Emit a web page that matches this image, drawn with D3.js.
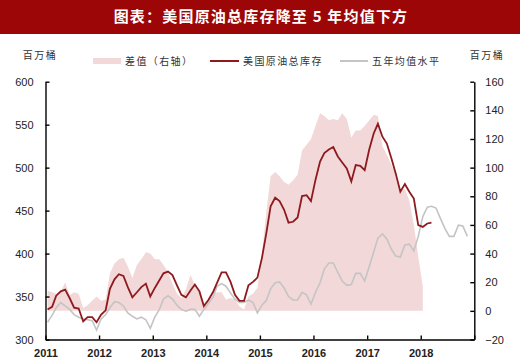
<!DOCTYPE html>
<html>
<head>
<meta charset="utf-8">
<script src="https://cdn.jsdelivr.net/npm/d3@7"></script>
<style>
  body { margin: 0; background: #fff; }
  text { font-family: "Liberation Sans", "Noto Sans", sans-serif; }
  .cjk { font-family: "Noto Sans CJK SC", sans-serif; }
</style>
</head>
<body>
<script>
const params = {
  width: 520,
  height: 363,
  left: 45.5,
  right: 474.3,
  top: 81.7,
  bottom: 339.5
}

// monthly values, first point = Jan 2011
const start = new Date(2011, 0, 1)
const stock = [
  335, 338, 351, 356, 358, 348, 337, 336, 321, 326, 326, 320,
  329, 334, 359, 370, 376, 374, 361, 349, 355, 361, 365, 350,
  360, 369, 377, 379, 375, 363, 352, 349, 357, 364, 356, 339,
  346, 355, 366, 378, 378, 367, 352, 345, 345, 363, 367, 372,
  395, 425, 455, 465, 461, 451, 436, 437, 442, 467, 468, 461,
  486, 507, 517, 521, 524, 513, 506, 499, 484, 503, 502, 497,
  521, 540, 551, 536, 528, 511, 493, 472, 481, 472, 464, 433,
  431, 435, 436
]
const avg5 = [
  320, 328, 337, 343, 339, 335, 329, 326, 324, 323, 322, 311,
  324, 329, 337, 344, 343, 339, 331, 327, 324, 326, 323, 313,
  326, 335, 347, 351, 347, 340, 335, 333, 335, 335, 327, 335,
  342, 349, 362, 365, 362, 354, 347, 343, 343, 346, 343, 331,
  340, 346, 359, 366, 367, 360, 350, 346, 346, 355, 352, 341,
  355, 366, 382, 389, 389, 378, 368, 363, 364, 377, 377, 368,
  385, 402, 418, 423, 417, 405, 397, 396, 410, 411, 403, 420,
  443, 454, 455, 453, 441, 429, 420, 420, 433, 432, 420
]
const diff = [
  14, 13, 12, 13, 20, 11, 13, 12, 2, 4, 7, 10,
  7, 8, 26, 33, 36, 37, 31, 23, 32, 36, 41, 40,
  36, 36, 32, 27, 19, 12, 9, 15, 25, 18, 13, 3,
  7, 11, 13, 13, 8, 9, 8, 3, 1, 10, 12, 16,
  40, 70, 94, 97, 94, 90, 88, 91, 95, 112, 116, 120,
  129, 138, 136, 133, 134, 133, 138, 134, 121, 126, 126, 129,
  133, 137, 136, 115, 109, 102, 95, 84, 85, 77, 60, 38,
  17
]
const years = [2011, 2012, 2013, 2014, 2015, 2016, 2017, 2018, 2019]
const leftTicks = [300, 350, 400, 450, 500, 550, 600]
const rightTicks = [-20, 0, 20, 40, 60, 80, 100, 120, 140, 160]

const monthDate = i => new Date(2011, i, 15)

const svg = d3.select("body").append("svg")
    .attr("width", params.width)
    .attr("height", params.height)

// title bar
svg.append("rect")
    .attr("x", 0)
    .attr("y", 0)
    .attr("width", params.width)
    .attr("height", 34)
    .style("fill", "#9c0606")

svg.append("text")
    .attr("class", "cjk")
    .attr("x", 261)
    .attr("y", 17)
    .attr("dy", "0.36em")
    .attr("text-anchor", "middle")
    .attr("font-size", 15)
    .attr("font-weight", "bold")
    .attr("letter-spacing", 1.2)
    .style("fill", "white")
    .text("图表：美国原油总库存降至 5 年均值下方")

const x = d3.scaleTime()
    .domain([start, new Date(2019, 0, 1)])
    .range([params.left, params.right])
const yL = d3.scaleLinear().domain([300, 600]).range([params.bottom, params.top])
const yR = d3.scaleLinear().domain([-20, 160]).range([params.bottom, params.top])

// difference area on right axis
svg.append("path")
    .datum(diff)
    .attr("d", d3.area()
      .x((d, i) => x(monthDate(i)))
      .y0(yR(0))
      .y1(d => yR(d)))
    .style("fill", "#f2d8d8")

svg.append("path")
    .datum(avg5)
    .attr("d", d3.line().x((d, i) => x(monthDate(i))).y(d => yL(d)))
    .style("fill", "none")
    .style("stroke", "#c4c4c4")
    .style("stroke-width", 1.6)

svg.append("path")
    .datum(stock)
    .attr("d", d3.line().x((d, i) => x(monthDate(i))).y(d => yL(d)))
    .style("fill", "none")
    .style("stroke", "#8e1a1e")
    .style("stroke-width", 1.8)

// axes
const styleAxis = g => {
  g.select(".domain").style("stroke", "#000").style("stroke-width", 1.4)
  g.selectAll(".tick line").style("stroke", "#000").style("stroke-width", 1.4)
  g.selectAll(".tick text").attr("font-size", 11).style("fill", "#222")
}

svg.append("g")
    .attr("transform", `translate(${params.left},0)`)
    .call(d3.axisLeft(yL).tickValues(leftTicks).tickSize(-4).tickSizeOuter(0).tickPadding(12))
    .call(styleAxis)

svg.append("g")
    .attr("transform", `translate(${params.right},0)`)
    .call(d3.axisRight(yR).tickValues(rightTicks).tickSize(-4).tickSizeOuter(0).tickPadding(11))
    .call(styleAxis)

svg.append("g")
    .attr("transform", `translate(0,${params.bottom})`)
    .call(d3.axisBottom(x)
      .tickValues(years.map(y => new Date(y, 0, 1)))
      .tickFormat(d => d.getFullYear() < 2019 ? d.getFullYear() : "")
      .tickSize(-4).tickSizeOuter(0).tickPadding(10))
    .call(styleAxis)
    .selectAll(".tick text").attr("font-weight", "bold")

// units
const unit = (xPos) => svg.append("text")
    .attr("class", "cjk")
    .attr("x", xPos)
    .attr("y", 55)
    .attr("dy", "0.36em")
    .attr("text-anchor", "middle")
    .attr("font-size", 10)
    .attr("letter-spacing", 1.5)
    .style("fill", "#333")
    .text("百万桶")
unit(40)
unit(487)

// legend
const legendY = 61
svg.append("rect")
    .attr("x", 93).attr("y", legendY - 3)
    .attr("width", 28).attr("height", 6)
    .style("fill", "#f2d8d8")
svg.append("line")
    .attr("x1", 210).attr("x2", 239).attr("y1", legendY).attr("y2", legendY)
    .style("stroke", "#8e1a1e").style("stroke-width", 2)
svg.append("line")
    .attr("x1", 340).attr("x2", 368).attr("y1", legendY).attr("y2", legendY)
    .style("stroke", "#c4c4c4").style("stroke-width", 2)

const legendText = (xPos, label) => svg.append("text")
    .attr("class", "cjk")
    .attr("x", xPos)
    .attr("y", legendY)
    .attr("dy", "0.36em")
    .attr("font-size", 10)
    .attr("letter-spacing", 1.4)
    .style("fill", "#333")
    .text(label)
legendText(125, "差值（右轴）")
legendText(243, "美国原油总库存")
legendText(372, "五年均值水平")
</script>
</body>
</html>
